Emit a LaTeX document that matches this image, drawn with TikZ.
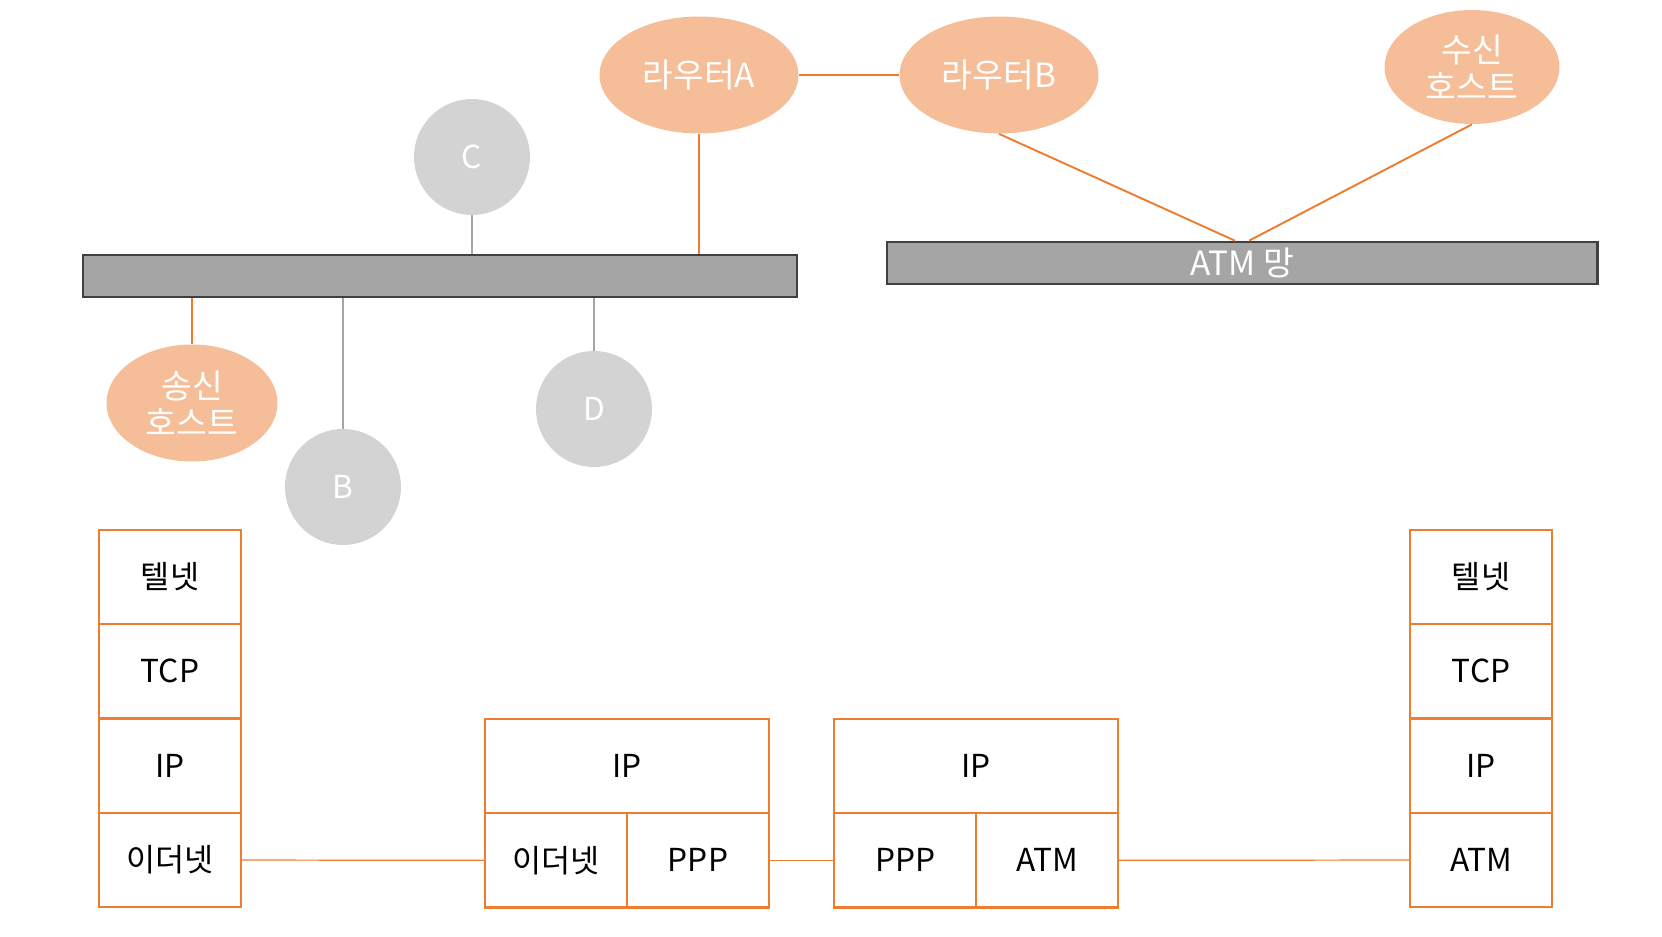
\documentclass[tikz,border=0pt]{standalone}
\usepackage{fontspec}
\setmainfont{Noto Sans CJK KR}
\usetikzlibrary{positioning,shapes.geometric}
\definecolor{netorange}{HTML}{ED7D31}
\definecolor{peach}{HTML}{F5BE98}
\definecolor{hostgray}{HTML}{D3D3D3}
\definecolor{bargray}{HTML}{A5A5A5}
\definecolor{barline}{HTML}{404040}

\begin{document}
\begin{tikzpicture}[x=0.02cm, y=-0.02cm]
    % --- 스타일 ---
    \tikzstyle{router}=[ellipse, fill=peach, text=white, minimum width=3.98cm, minimum height=2.34cm, inner sep=0pt, align=center, font=\fontsize{19}{21}\selectfont]
    \tikzstyle{other}=[ellipse, fill=hostgray, text=white, minimum size=2.32cm, inner sep=0pt, font=\fontsize{18}{20}\selectfont]
    \tikzstyle{lan}=[rectangle, fill=bargray, draw=barline, line width=1.2pt, minimum height=0.85cm, inner sep=0pt, text=white, font=\fontsize{19}{21}\selectfont]
    \tikzstyle{layer}=[rectangle, draw=netorange, line width=1.4pt, minimum width=2.84cm, minimum height=1.887cm, inner sep=0pt, outer sep=0pt, font=\fontsize{18}{22}\selectfont]
    \tikzstyle{wire}=[netorange, line width=1.1pt]
    \tikzstyle{drop}=[gray!70, line width=0.7pt]
    \tikzstyle{link}=[netorange, line width=0.7pt]

    \useasboundingbox (0,0) rectangle (1662,936);

    % 1. 라우터와 호스트
    \node[router] (ra) at (699,75) {라우터A};
    \node[router] (rb) at (999,75) {라우터B};
    \node[router, minimum width=3.5cm, minimum height=2.28cm] (rh) at (1472,67) {수신\\호스트};
    \node[router, minimum width=3.42cm] (sh) at (192,403) {송신\\호스트};
    \node[other] (c) at (472,157) {C};
    \node[other] (b) at (343,487) {B};
    \node[other] (d) at (594,409) {D};

    % 2. 이더넷 버스와 ATM 망
    \node[lan, minimum width=14.27cm] (lan) at (440,276) {};
    \node[lan, minimum width=14.22cm] (atm) at (1242,263) {ATM 망};

    % 3. 연결선 (위쪽)
    \draw[wire] (ra) -- (rb);
    \draw[wire] (ra.south) -- (ra.south |- lan.north);
    \draw[drop] (c.south) -- (c.south |- lan.north);
    \draw[wire] (sh.north) -- (sh.north |- lan.south);
    \draw[drop] (b.north) -- (b.north |- lan.south);
    \draw[drop] (d.north) -- (d.north |- lan.south);
    \draw[wire] (rb.south) -- ([xshift=-0.14cm]atm.north);
    \draw[wire] (rh.south) -- ([xshift=0.14cm]atm.north);

    % 4. 송신 호스트 계층
    \node[layer] (s1) at (170,577) {텔넷};
    \node[layer, below=0pt of s1] (s2) {TCP};
    \node[layer, below=0pt of s2] (s3) {IP};
    \node[layer, below=0pt of s3] (s4) {이더넷};

    % 5. 라우터A 계층
    \node[layer, minimum width=5.68cm] (ma) at (627,766) {IP};
    \node[layer, anchor=north west] (ma1) at (ma.south west) {이더넷};
    \node[layer, anchor=north east] (ma2) at (ma.south east) {PPP};

    % 6. 라우터B 계층
    \node[layer, minimum width=5.68cm] (mb) at (976,766) {IP};
    \node[layer, anchor=north west] (mb1) at (mb.south west) {PPP};
    \node[layer, anchor=north east] (mb2) at (mb.south east) {ATM};

    % 7. 수신 호스트 계층
    \node[layer] (t1) at (1481,577) {텔넷};
    \node[layer, below=0pt of t1] (t2) {TCP};
    \node[layer, below=0pt of t2] (t3) {IP};
    \node[layer, below=0pt of t3] (t4) {ATM};

    % 8. 계층 사이 연결선
    \draw[link] (s4) -- (ma1);
    \draw[link] (ma2) -- (mb1);
    \draw[link] (mb2) -- (t4);

\end{tikzpicture}
\end{document}
